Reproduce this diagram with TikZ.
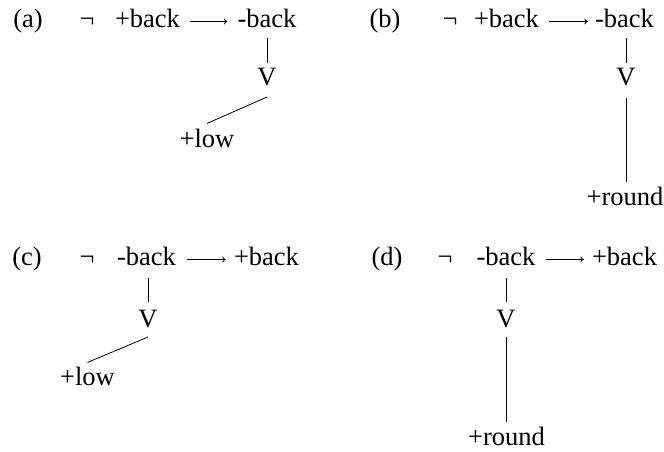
\documentclass[tikz,border=0pt]{standalone}
\usepackage{fontspec}
\setmainfont{Liberation Serif}
\usetikzlibrary{arrows.meta}
\begin{document}
\begin{tikzpicture}[x=1pt,y=-1pt,
  txt/.style={inner sep=0pt, anchor=base, font=\fontsize{26.5}{30}\selectfont},
  ln/.style={line width=0.8pt},
  arr/.style={line width=0.8pt, -{To[length=3.5pt,width=6pt]}}]
\useasboundingbox (0,0) rectangle (664,451);
% (a)
\node[txt] (la) at (28,27) {(a)};
\node[txt] (na) at (87,27) {¬};
\node[txt] (pa) at (147.5,27) {+back};
\node[txt] (ma) at (267,27) {-back};
\node[txt] (va) at (267,85) {V};
\node[txt] (wa) at (207,147) {+low};
\draw[arr] ([xshift=10pt,yshift=5.5pt]pa.base east) -- ([xshift=-10pt,yshift=5.5pt]ma.base west);
\draw[ln] ([yshift=-11pt]va.north |- ma.base) -- ([yshift=4pt]va.north);
\draw[ln] ([yshift=-12pt]va.base) -- ([yshift=5pt]wa.north);
% (b)
\node[txt] (lb) at (385,27) {(b)};
\node[txt] (nb) at (450,27) {¬};
\node[txt] (pb) at (506.5,27) {+back};
\node[txt] (mb) at (624.5,27) {-back};
\node[txt] (vb) at (626,85) {V};
\node[txt] (rb) at (625,205) {+round};
\draw[arr] ([xshift=10pt,yshift=5.5pt]pb.base east) -- ([xshift=-7pt,yshift=5.5pt]mb.base west);
\draw[ln] ([yshift=-11pt]vb.north |- mb.base) -- ([yshift=4pt]vb.north);
\draw[ln] ([yshift=-13pt]vb.base) -- ([yshift=4pt]vb.north |- rb.north);
% (c)
\node[txt] (lc) at (27,265) {(c)};
\node[txt] (nc) at (87,265) {¬};
\node[txt] (mc) at (146.5,265) {-back};
\node[txt] (pc) at (266.5,265) {+back};
\node[txt] (vc) at (148,327) {V};
\node[txt] (wc) at (87.5,385) {+low};
\draw[arr] ([xshift=11pt,yshift=5.5pt]mc.base east) -- ([xshift=-8pt,yshift=5.5pt]pc.base west);
\draw[ln] ([yshift=-13pt]vc.north |- mc.base) -- ([yshift=7pt]vc.north);
\draw[ln] ([yshift=-10pt]vc.base) -- ([yshift=4pt]wc.north);
% (d)
\node[txt] (ld) at (387,265) {(d)};
\node[txt] (nd) at (445,265) {¬};
\node[txt] (md) at (506,265) {-back};
\node[txt] (pd) at (624.5,265) {+back};
\node[txt] (vd) at (506,327) {V};
\node[txt] (rd) at (506.5,445) {+round};
\draw[arr] ([xshift=10pt,yshift=5.5pt]md.base east) -- ([xshift=-8pt,yshift=5.5pt]pd.base west);
\draw[ln] ([yshift=-13pt]vd.north |- md.base) -- ([yshift=7pt]vd.north);
\draw[ln] ([yshift=-10pt]vd.base) -- ([yshift=4pt]vd.north |- rd.north);
\end{tikzpicture}
\end{document}
